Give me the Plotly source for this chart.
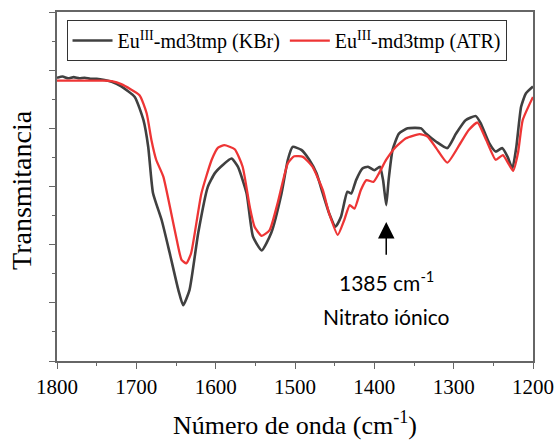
import plotly.graph_objects as go

# Wavenumbers (cm-1) and transmittance (arbitrary units)
wn_kbr = [1800, 1793, 1786, 1779, 1772, 1765, 1758, 1750, 1740, 1731, 1719, 1702, 1691, 1685,
          1679, 1668, 1658, 1647, 1641, 1633, 1622, 1610, 1601, 1591, 1580, 1572, 1561, 1553,
          1542, 1530, 1517, 1509, 1503, 1492, 1482, 1473, 1465, 1457, 1449, 1442, 1434, 1429,
          1423, 1415, 1408, 1400, 1393, 1389, 1385, 1382, 1377, 1369, 1358, 1341, 1335, 1322,
          1308, 1297, 1285, 1272, 1266, 1255, 1247, 1239, 1232, 1226, 1221, 1215, 1209, 1200]
t_kbr = [48.7, 48.9, 48.6, 48.8, 48.6, 48.7, 48.5, 48.5, 48.3, 48.0, 47.2, 45.4, 41.4, 36.8,
         28.9, 24.2, 18.6, 12.2, 9.6, 12.2, 22.0, 29.9, 32.3, 33.7, 34.8, 33.4, 28.8, 21.4,
         19.0, 22.0, 28.8, 34.6, 36.8, 36.3, 34.6, 32.3, 28.8, 25.4, 23.1, 24.8, 29.1, 28.8,
         31.1, 33.1, 33.4, 32.8, 33.4, 31.1, 26.8, 31.1, 36.3, 39.1, 40.0, 40.0, 39.1, 37.7,
         36.6, 39.1, 41.4, 42.1, 40.9, 37.4, 36.0, 36.6, 35.1, 33.1, 36.8, 43.7, 46.0, 47.2]

wn_atr = [1800, 1780, 1760, 1740, 1731, 1719, 1696, 1687, 1681, 1675, 1666, 1656, 1649, 1643,
          1637, 1631, 1618, 1605, 1597, 1589, 1576, 1566, 1557, 1551, 1542, 1532, 1522, 1509,
          1501, 1490, 1478, 1465, 1457, 1446, 1438, 1431, 1425, 1417, 1410, 1401, 1394, 1385,
          1373, 1360, 1343, 1333, 1322, 1308, 1293, 1281, 1270, 1259, 1247, 1238, 1230, 1225,
          1219, 1213, 1200]
t_atr = [48.2, 48.2, 48.2, 48.2, 48.1, 47.6, 45.7, 42.6, 38.0, 34.6, 31.7, 25.4, 20.8, 17.4,
         16.8, 18.5, 28.8, 34.6, 36.7, 37.1, 36.4, 33.4, 26.5, 23.1, 21.5, 22.5, 27.1, 34.0,
         35.2, 35.1, 33.4, 29.4, 25.4, 21.7, 24.2, 26.8, 26.2, 29.4, 31.1, 30.8, 32.3, 34.6,
         36.8, 38.3, 39.0, 38.6, 36.6, 34.1, 37.1, 39.7, 41.0, 38.0, 34.6, 35.4, 33.7, 32.7,
         35.7, 41.4, 45.4]

x_ticks = [1800, 1700, 1600, 1500, 1400, 1300, 1200]
peak_wn = 1385
peak_arrow_tip = 23.9
peak_arrow_tail = 18.0
label1_y = 13.8
label2_y = 7.7

serif = "Liberation Serif"
sans = "Lato"

fig = go.Figure()
fig.add_trace(go.Scatter(x=wn_kbr, y=t_kbr, mode="lines", name="Eu<sup>III</sup>-md3tmp (KBr)",
                         line=dict(color="#404040", width=2.6, shape="spline", smoothing=0.5)))
fig.add_trace(go.Scatter(x=wn_atr, y=t_atr, mode="lines", name="Eu<sup>III</sup>-md3tmp (ATR)",
                         line=dict(color="#EE3535", width=2.3, shape="spline", smoothing=0.5)))

fig.add_annotation(x=peak_wn, y=peak_arrow_tip, ax=peak_wn, ay=peak_arrow_tail,
                   axref="x", ayref="y", xref="x", yref="y", text="", showarrow=True,
                   arrowhead=2, arrowsize=2.2, arrowwidth=1.5, arrowcolor="black")
fig.add_annotation(x=peak_wn, y=label1_y, xref="x", yref="y", showarrow=False,
                   text="1385 cm<sup>-1</sup>",
                   font=dict(family=sans, size=21, color="black"), align="center")
fig.add_annotation(x=peak_wn, y=label2_y, xref="x", yref="y", showarrow=False,
                   text="Nitrato iónico",
                   font=dict(family=sans, size=21, color="black"), align="center")
# y-axis title placed as rotated text
fig.add_annotation(x=0, y=0.49, xref="paper", yref="paper", xanchor="center", yanchor="middle",
                   xshift=-35, textangle=-90, showarrow=False, text="Transmitancia",
                   font=dict(family=serif, size=28, color="black"))

fig.update_layout(
    width=558, height=440,
    margin=dict(l=57, r=25, t=12, b=79),
    plot_bgcolor="white", paper_bgcolor="white",
    font=dict(family=serif, color="black"),
    showlegend=True,
    legend=dict(orientation="h", x=0.02, y=0.977, xanchor="left", yanchor="top",
                bordercolor="#333333", borderwidth=1, bgcolor="white",
                font=dict(family=serif, size=20, color="black"),
                itemwidth=40, tracegroupgap=0),
    xaxis=dict(range=[1800, 1200], tickvals=x_ticks, ticks="outside", ticklen=6,
               tickcolor="#666666", showline=True, linecolor="#666666", linewidth=1.5,
               mirror=True, showgrid=False, zeroline=False, automargin=False,
               tickfont=dict(family=serif, size=21, color="black"),
               minor=dict(dtick=50, ticks="outside", ticklen=3, tickcolor="#666666"),
               title=dict(text="Número de onda (cm<sup>-1</sup>)", standoff=21,
                          font=dict(family=serif, size=26, color="black"))),
    yaxis=dict(range=[0, 60], dtick=10, ticks="outside", ticklen=6, tickcolor="#666666",
               showticklabels=False, showline=True, linecolor="#666666", linewidth=1.5,
               mirror=True, showgrid=False, zeroline=False, automargin=False,
               minor=dict(dtick=5, ticks="outside", ticklen=3, tickcolor="#666666")),
)

fig.write_html("out.html")
